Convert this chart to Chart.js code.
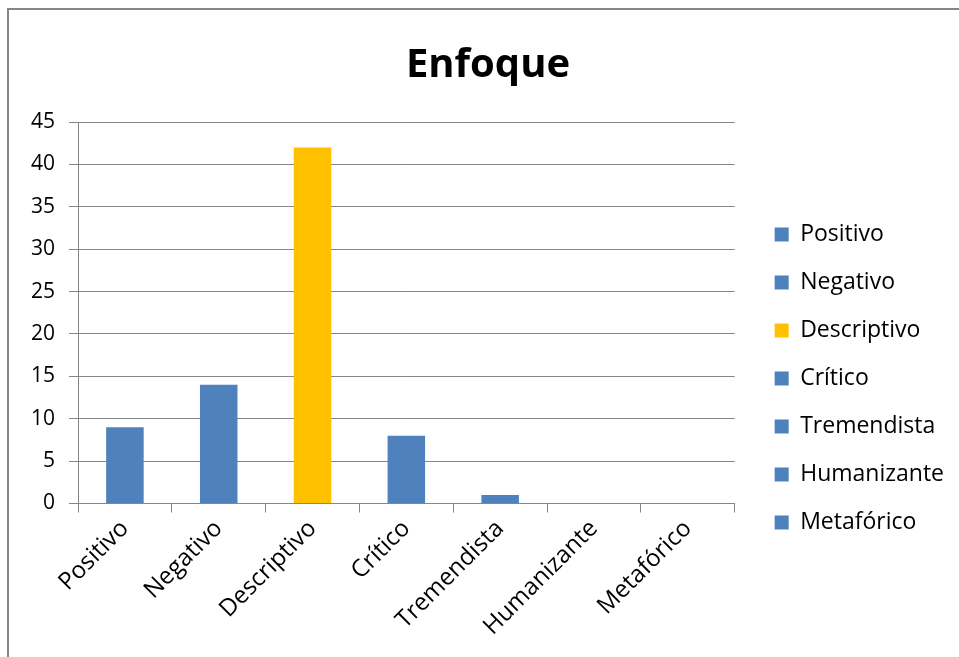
<!DOCTYPE html>
<html>
<head>
<meta charset="utf-8">
<script src="https://cdn.jsdelivr.net/npm/chart.js@4.4.0/dist/chart.umd.min.js"></script>
<style>
    html, body { margin: 0; padding: 0; background: #fff; overflow: hidden; }
    #frame { position: absolute; left: 7px; top: 8px; width: 1000px; height: 700px; border: 2px solid #868686; box-sizing: border-box; }
    #wrap { position: absolute; left: 0; top: 0; width: 959px; height: 657px; }
</style>
</head>
<body>
<div id="frame"></div>
<div id="wrap"><canvas id="chart"></canvas></div>
<script>
// chart data
const categories = ['Positivo', 'Negativo', 'Descriptivo', 'Crítico', 'Tremendista', 'Humanizante', 'Metafórico'];
const values = [9, 14, 42, 8, 1, 0, 0];
const barColors = ['#4F81BD', '#4F81BD', '#FFC000', '#4F81BD', '#4F81BD', '#4F81BD', '#4F81BD'];
const yMin = 0;
const yMax = 45;
const yStep = 5;

(function() {
    'use strict';
    const FONT = "'Open Sans', sans-serif";
    const GRID = '#868686';

    // nudge legend + title; Chart.js glues them to the plot area otherwise
    const boxNudge = {
        id: 'boxNudge',
        afterLayout(chart) {
            const lg = chart.legend;
            if (lg) {
                lg.left += 15; lg.right += 15;
                lg.top += 52; lg.bottom += 52;
            }
            const tt = chart.titleBlock;
            if (tt) { tt.left += 10; tt.right += 10; }
        }
    };

    const ctx = document.getElementById('chart').getContext('2d');
    new Chart(ctx, {
        type: 'bar',
        data: {
            labels: categories,
            datasets: [{
                label: 'Enfoque',
                data: values,
                backgroundColor: barColors,
                borderWidth: 0,
                categoryPercentage: 1,
                barPercentage: 0.4
            }]
        },
        options: {
            responsive: true,
            maintainAspectRatio: false,
            animation: false,
            layout: { padding: { left: 17, right: 20, top: 10, bottom: 14 } },
            plugins: {
                tooltip: { enabled: false },
                title: {
                    display: true,
                    text: 'Enfoque',
                    color: '#000',
                    font: { family: FONT, size: 40, weight: 'bold' },
                    padding: { top: 32, bottom: 32 }
                },
                legend: {
                    position: 'right',
                    labels: {
                        color: '#000',
                        font: { family: FONT, size: 23 },
                        boxWidth: 14,
                        boxHeight: 14,
                        padding: 25,
                        generateLabels: () => categories.map((c, i) => ({
                            text: c,
                            fillStyle: barColors[i],
                            strokeStyle: barColors[i],
                            lineWidth: 0,
                            hidden: false,
                            index: i
                        }))
                    }
                }
            },
            scales: {
                x: {
                    grid: { display: true, drawOnChartArea: false, offset: true, tickLength: 9, color: GRID },
                    border: { color: GRID },
                    ticks: {
                        color: '#000',
                        font: { family: FONT, size: 24 },
                        minRotation: 45,
                        maxRotation: 45,
                        padding: 2
                    }
                },
                y: {
                    min: yMin,
                    max: yMax,
                    grid: { color: GRID, tickLength: 9 },
                    border: { color: GRID },
                    ticks: {
                        stepSize: yStep,
                        color: '#000',
                        font: { family: FONT, size: 21 },
                        padding: 14
                    }
                }
            }
        },
        plugins: [boxNudge]
    });
})();
</script>
</body>
</html>
